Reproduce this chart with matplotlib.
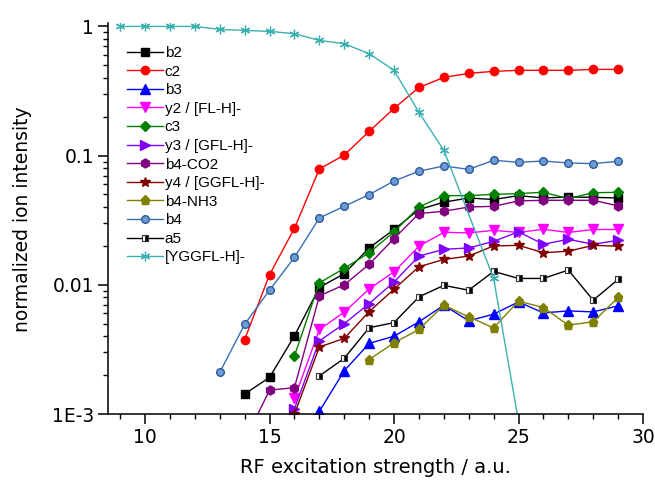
import matplotlib
matplotlib.use("Agg")
import matplotlib.pyplot as plt
from matplotlib.ticker import FixedLocator, FuncFormatter, NullFormatter, MultipleLocator
import numpy as np

# RF excitation steps and normalized fragment intensities
x_b2 = list(range(14, 30))
b2 = [0.00143, 0.00192, 0.00403, 0.00953, 0.0122, 0.0193, 0.0268, 0.0382,
      0.0436, 0.047, 0.0457, 0.049, 0.047, 0.0478, 0.0475, 0.047]

x_c2 = list(range(14, 30))
c2 = [0.00377, 0.012, 0.0274, 0.0788, 0.101, 0.154, 0.232, 0.337,
      0.403, 0.433, 0.449, 0.457, 0.457, 0.457, 0.465, 0.465]

x_b3 = list(range(17, 30))
b3 = [0.00105, 0.00216, 0.00352, 0.0040, 0.00517, 0.00695, 0.00526,
      0.00593, 0.00737, 0.00606, 0.00628, 0.00617, 0.00687]

x_y2 = list(range(16, 30))
y2 = [0.00132, 0.00451, 0.00614, 0.00929, 0.0126, 0.0199, 0.0255, 0.0252,
      0.0264, 0.0254, 0.0269, 0.0254, 0.0268, 0.0268]

x_c3 = list(range(16, 30))
c3 = [0.00282, 0.01035, 0.0134, 0.0177, 0.0257, 0.040, 0.049, 0.049,
      0.0501, 0.0508, 0.052, 0.0465, 0.0516, 0.052]

x_y3 = list(range(16, 30))
y3 = [0.0011, 0.00368, 0.0050, 0.00716, 0.0105, 0.0167, 0.0188, 0.0193,
      0.0217, 0.0257, 0.0206, 0.0225, 0.0206, 0.0221]

x_b4co2 = list(range(14, 30))
b4_co2 = [0.00062, 0.00153, 0.0016, 0.0082, 0.0100, 0.0144, 0.0228, 0.0356,
          0.0371, 0.0400, 0.0405, 0.0446, 0.0451, 0.0451, 0.0451, 0.0408]

x_y4 = list(range(16, 30))
y4 = [0.0010, 0.0033, 0.00385, 0.0062, 0.00925, 0.0138, 0.0157, 0.0167,
      0.0200, 0.0202, 0.0177, 0.0182, 0.0202, 0.0199]

x_b4nh3 = list(range(19, 30))
b4_nh3 = [0.00264, 0.00356, 0.00451, 0.00695, 0.00565, 0.00464, 0.00747,
          0.00667, 0.00487, 0.00517, 0.00798]

x_b4 = list(range(13, 30))
b4 = [0.0021, 0.00495, 0.0091, 0.0163, 0.0329, 0.0405, 0.0499, 0.0636,
      0.0757, 0.0831, 0.0783, 0.092, 0.0887, 0.0908, 0.0877, 0.0867, 0.0903]

x_a5 = list(range(17, 30))
a5 = [0.00197, 0.0027, 0.00465, 0.0051, 0.00806, 0.0099, 0.00908, 0.0127,
      0.0112, 0.0112, 0.0130, 0.0076, 0.0110]

x_prec = [9, 10, 11, 12, 13, 14, 15, 16, 17, 18, 19, 20, 21, 22, 24, 25]
precursor = [1.0, 1.0, 1.0, 1.0, 0.948, 0.931, 0.915, 0.878, 0.779, 0.735,
             0.615, 0.457, 0.216, 0.110, 0.0112, 0.00088]

labels = ["b2", "c2", "b3", "y2 / [FL-H]-", "c3", "y3 / [GFL-H]-", "b4-CO2",
          "y4 / [GGFL-H]-", "b4-NH3", "b4", "a5", "[YGGFL-H]-"]

series = [
    (x_b2, b2, dict(color="black", marker="s", ms=5.5)),
    (x_c2, c2, dict(color="#ff0000", marker="o", ms=6)),
    (x_b3, b3, dict(color="#0000ff", marker="^", ms=6.5)),
    (x_y2, y2, dict(color="#ff00ff", marker="v", ms=6.5)),
    (x_c3, c3, dict(color="#008000", marker="D", ms=5)),
    (x_y3, y3, dict(color="#8000ff", marker=">", ms=6.5)),
    (x_b4co2, b4_co2, dict(color="#800080", marker="h", ms=6.5)),
    (x_y4, y4, dict(color="#800000", marker="*", ms=7)),
    (x_b4nh3, b4_nh3, dict(color="#808000", marker="p", ms=6.5)),
    (x_b4, b4, dict(color="#3a6eb4", marker="o", ms=5.5, mfc="#6d9bd6", mec="#2b5a98")),
    (x_a5, a5, dict(color="black", marker="s", ms=5, fillstyle="right",
                    mfc="black", mfcalt="white", mec="#333333", mew=0.8)),
    (x_prec, precursor, dict(color="#3cb0b0", marker=(6, 2, 0), ms=7, mew=0.9)),
]

fig = plt.figure(figsize=(6.55, 4.86), dpi=100)
ax = fig.add_axes([108 / 655, 1 - 414 / 486, (643 - 108) / 655, (414 - 23.4) / 486])

for (xs, ys, style), lab in zip(series, labels):
    ax.plot(xs, ys, lw=1.0, label=lab, **style)

ax.set_yscale("log")
ax.set_xlim(8.51, 30)
ax.set_ylim(1e-3, 1.055)

ax.xaxis.set_major_locator(FixedLocator([10, 15, 20, 25, 30]))
ax.xaxis.set_minor_locator(MultipleLocator(1))

ax.yaxis.set_major_locator(FixedLocator([1e-3, 1e-2, 1e-1, 1]))
ytext = {1e-3: "1E-3", 1e-2: "0.01", 1e-1: "0.1", 1: "1"}
ax.yaxis.set_major_formatter(FuncFormatter(
    lambda v, p: min(ytext.items(), key=lambda kv: abs(np.log10(kv[0]) - np.log10(v)))[1]))
minors = [m * 10.0 ** e for e in (-3, -2, -1) for m in range(2, 10)]
ax.yaxis.set_minor_locator(FixedLocator(minors))
ax.yaxis.set_minor_formatter(NullFormatter())

for s in ("top", "right"):
    ax.spines[s].set_visible(False)
for s in ("left", "bottom"):
    ax.spines[s].set_linewidth(1.1)

ax.tick_params(which="major", direction="out", length=7, width=1.1,
               labelsize=13.5, pad=3)
ax.tick_params(which="minor", direction="out", length=3.5, width=1.0)

ax.set_xlabel("RF excitation strength / a.u.", fontsize=14, labelpad=8)
ax.set_ylabel("normalized ion intensity", fontsize=13.5, labelpad=14)

leg = ax.legend(loc="upper left", bbox_to_anchor=(0.0354, 0.942), frameon=False,
                prop={"family": "Liberation Sans", "size": 11},
                handlelength=2.33, handletextpad=0.15, labelspacing=0.3,
                borderaxespad=0.0, borderpad=0.0)

fig.savefig("out.png", dpi=100)
